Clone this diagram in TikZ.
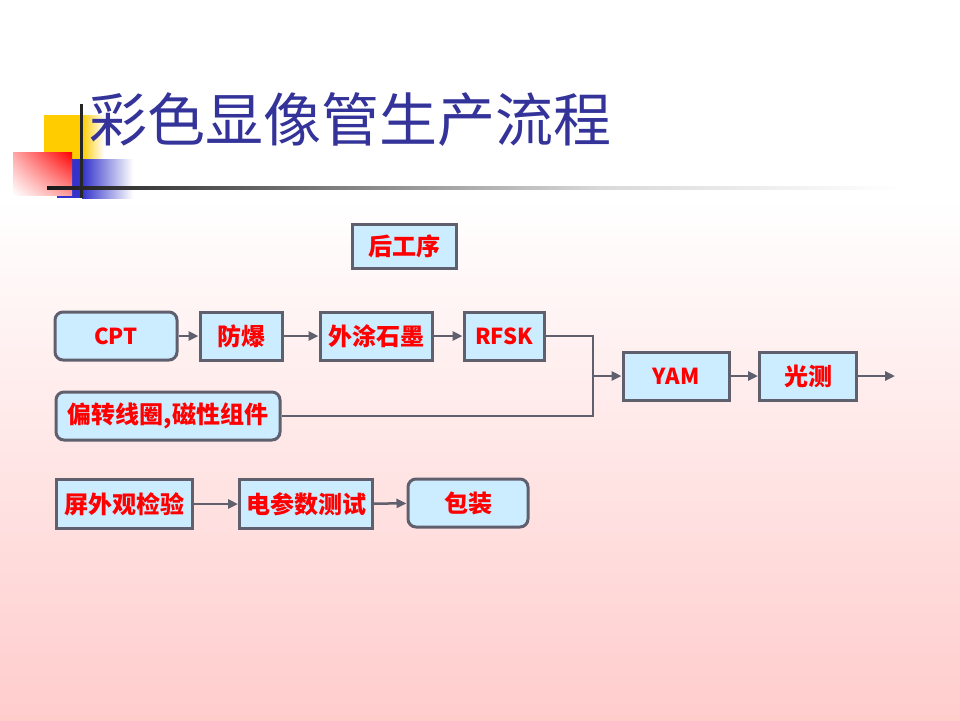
\documentclass[tikz,border=0pt]{standalone}
\usepackage{fontspec}
\setmainfont{DejaVu Sans}
\newfontfamily\cjk{Noto Sans CJK SC}
\usetikzlibrary{arrows.meta,positioning,shadings}
\definecolor{boxfill}{HTML}{CCECFF}
\definecolor{boxline}{HTML}{5F5F6E}
\definecolor{titleblue}{HTML}{333399}
\definecolor{bgpink}{HTML}{FFCCCC}
\definecolor{decoyellow}{HTML}{FFCC00}
\definecolor{decoblue}{HTML}{3333CC}
\newcommand{\en}[1]{{\fontsize{22}{22}\selectfont\bfseries #1}}
\tikzset{
  stepbox/.style={draw=boxline, fill=boxfill, line width=3pt, text=red,
    inner sep=0pt, font=\cjk\bfseries\fontsize{24}{24}\selectfont},
  startbox/.style={stepbox, rounded corners=8pt},
  flow/.style={draw=boxline, line width=2.5pt, -{Triangle[length=10pt,width=9pt]}},
  mergeline/.style={draw=boxline, line width=2.5pt}
}
\begin{document}
\begin{tikzpicture}[x=1pt, y=-1pt]
    \useasboundingbox (0,0) rectangle (960,720);
    \fill[white] (0,0) rectangle (960,200);
    \shade[top color=white, bottom color=bgpink] (0,200) rectangle (960,720);
    % corner marks
    \fill[decoyellow] (44,115) rectangle (82,159);
    \shade[left color=decoyellow, right color=white] (82,115) rectangle (104,159);
    \fill[decoblue] (57,159) rectangle (82,198);
    \shade[left color=decoblue, right color=white] (82,159) rectangle (133,198);
    \shade[upper right=red, upper left=red!35, lower right=red!40, lower left=white]
      (13,152) rectangle (72,195);
    \draw[line width=3pt, black!85] (81,104) -- (81,198);
    \shade[left color=black!90, right color=black!55] (47,186.5) rectangle (300,189.5);
    \shade[left color=black!55, right color=black!15] (300,186.5) rectangle (600,189.5);
    \shade[left color=black!15, right color=white] (600,186.5) rectangle (900,189.5);
    \node[anchor=west, text=titleblue, font=\cjk\fontsize{58}{58}\selectfont] (title)
      at (86,120) {彩色显像管生产流程};
    % flow
    \node[stepbox, minimum width=104pt, minimum height=44pt] (hou) at (404,246) {后工序};
    \node[startbox, minimum width=122pt, minimum height=48pt] (cpt) at (116,336) {\en{CPT}};
    \node[stepbox, minimum width=82pt, minimum height=48pt] (fb) at (241,336) {防爆};
    \node[stepbox, minimum width=112pt, minimum height=48pt] (wt) at (376,336) {外涂石墨};
    \node[stepbox, minimum width=80pt, minimum height=48pt] (rfsk) at (504,336) {\en{RFSK}};
    \node[startbox, minimum width=224pt, minimum height=48pt] (pz) at (168,416) {偏转线圈,磁性组件};
    \node[stepbox, minimum width=106pt, minimum height=48pt] (yam) at (676,376) {\en{YAM}};
    \node[stepbox, minimum width=97pt, minimum height=48pt] (gc) at (808,376) {光测};
    \node[stepbox, minimum width=136pt, minimum height=49pt] (pw) at (124,504) {屏外观检验};
    \node[stepbox, minimum width=133pt, minimum height=49pt] (dcs) at (306,504) {电参数测试};
    \node[startbox, minimum width=120pt, minimum height=48pt] (bz) at (468,503) {包装};
    \coordinate (jn) at (593,376);
    \coordinate (out) at (895,376);
    \draw[flow] (cpt) -- (fb);
    \draw[flow] (fb) -- (wt);
    \draw[flow] (wt) -- (rfsk);
    \draw[mergeline] (rfsk.east) -| (jn);
    \draw[mergeline] (pz.east) -| (jn);
    \draw[flow] (jn) -- (yam);
    \draw[flow] (yam) -- (gc);
    \draw[flow] (gc) -- (out);
    \draw[flow] (pw) -- (dcs);
    \draw[flow] (dcs) -- (bz);
\end{tikzpicture}
\end{document}
